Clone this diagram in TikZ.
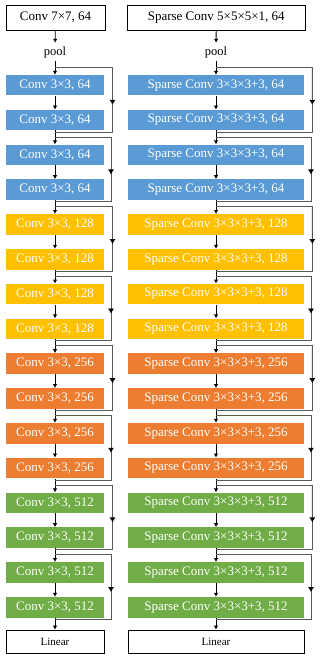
\documentclass[tikz,border=0pt]{standalone}
\usepackage{fontspec}
\setmainfont{Liberation Serif}
\usetikzlibrary{arrows.meta, positioning, calc}
\definecolor{stageblue}{HTML}{5B9BD5}
\definecolor{stagegold}{HTML}{FFC000}
\definecolor{stageorange}{HTML}{ED7D31}
\definecolor{stagegreen}{HTML}{70AD47}
\tikzset{
    plainbox/.style={draw=black, line width=0.7pt, fill=white, inner sep=0pt},
    layer/.style={fill=#1, draw=none, text=white, inner sep=0pt,
                  minimum height=20.5pt, font=\fontsize{13}{15}\selectfont},
    flow/.style={line width=0.8pt, -{Latex[length=4pt,width=4.5pt]}},
    skipline/.style={draw=black!65, line width=0.7pt},
    skiptip/.style={draw=black!65, line width=0.7pt, -{Latex[length=5pt,width=6pt,color=black]}}
}

\begin{document}
\begin{tikzpicture}[x=1pt,y=-1pt]
\useasboundingbox (0,0) rectangle (324,663);
% stem and pooling
\node[plainbox, minimum width=99pt, minimum height=25pt, font=\fontsize{13}{15}\selectfont]
    (Lstem) at (55.5,17.5) {Conv 7×7, 64};
\node[plainbox, minimum width=177.5pt, minimum height=25pt, font=\fontsize{13}{15}\selectfont]
    (Rstem) at (216.25,17.5) {Sparse Conv 5×5×5×1, 64};
\node[font=\fontsize{12.5}{14}\selectfont] (Lpool) at (55,52) {pool};
\node[font=\fontsize{12.5}{14}\selectfont] (Rpool) at (216,52) {pool};
% residual stages
\foreach \i/\clr/\ch in {
    1/stageblue/64, 2/stageblue/64, 3/stageblue/64, 4/stageblue/64,
    5/stagegold/128, 6/stagegold/128, 7/stagegold/128, 8/stagegold/128,
    9/stageorange/256, 10/stageorange/256, 11/stageorange/256, 12/stageorange/256,
    13/stagegreen/512, 14/stagegreen/512, 15/stagegreen/512, 16/stagegreen/512}{
    \node[layer=\clr, minimum width=98pt] (L\i) at (55,{85.25+34.8*(\i-1)}) {Conv 3×3, \ch};
    \node[layer=\clr, minimum width=176pt] (R\i) at (216,{85.25+34.8*(\i-1)}) {Sparse Conv 3×3×3+3, \ch};
}
% classifier
\node[plainbox, minimum width=98pt, minimum height=23pt, font=\fontsize{11}{13}\selectfont]
    (Lfc) at (55,641.5) {Linear};
\node[plainbox, minimum width=176pt, minimum height=23pt, font=\fontsize{11}{13}\selectfont]
    (Rfc) at (216,641.5) {Linear};
% main flow
\foreach \s in {L,R}{
    \draw[flow] (\s stem) -- (\s pool);
    \draw[flow] (\s pool) -- (\s1);
    \foreach \i [evaluate=\i as \j using int(\i+1)] in {1,...,15}
        \draw[flow] (\s\i) -- (\s\j);
    \draw[flow] (\s16) -- (\s fc);
}
% shortcut connections
\foreach \k in {0,...,7}{
    \pgfmathtruncatemacro{\a}{2*\k+1}
    \pgfmathtruncatemacro{\b}{2*\k+2}
    \pgfmathsetmacro{\dl}{57.5-1.5*mod(\k,2)}
    \pgfmathsetmacro{\dr}{96.3-1.3*mod(\k,2)}
    \coordinate (Lf\k) at ($(L\a.north)+(0,-7.5)$);
    \coordinate (Lj\k) at ($(L\b.south)+(0,1.5)$);
    \coordinate (Rf\k) at ($(R\a.north)+(0,-7.5)$);
    \coordinate (Rj\k) at ($(R\b.south)+(0,1.5)$);
    \draw[skipline] (Lf\k) -- ++(\dl,0) coordinate (Lc\k) |- (Lj\k);
    \draw[skipline] (Rf\k) -- ++(\dr,0) coordinate (Rc\k) |- (Rj\k);
    \draw[skiptip] (Lc\k) -- ($(Lc\k)!0.58!(Lc\k |- Lj\k)$);
    \draw[skiptip] (Rc\k) -- ($(Rc\k)!0.58!(Rc\k |- Rj\k)$);
}
\end{tikzpicture}
\end{document}
